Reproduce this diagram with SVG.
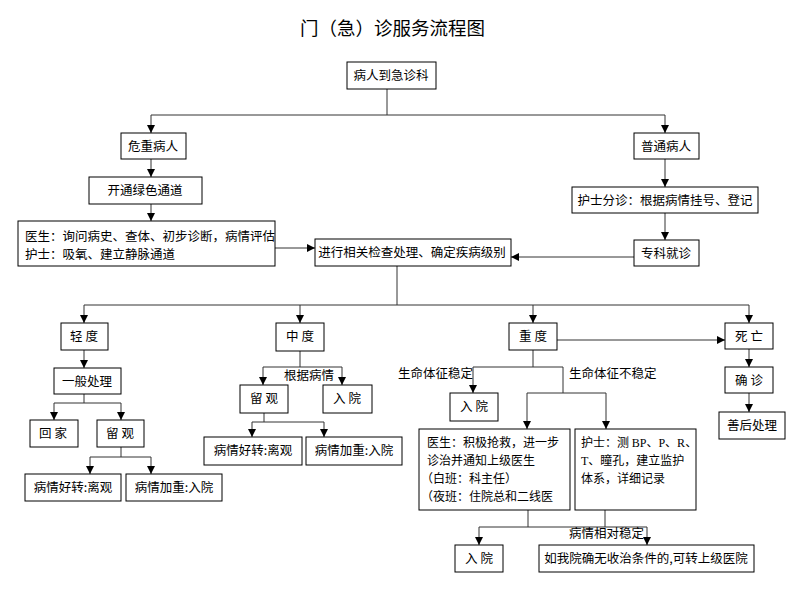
<svg xmlns="http://www.w3.org/2000/svg" width="800" height="590" viewBox="0 0 800 590">
<defs>
<marker id="arr" markerUnits="userSpaceOnUse" markerWidth="8" markerHeight="8" refX="8" refY="4" orient="auto">
<path d="M0,0 L8,4 L0,8 z" fill="#000"/>
</marker>
<style>
.b{fill:#fff;stroke:#000;stroke-width:1}
.t{font-family:"Noto Sans CJK SC","Liberation Sans",sans-serif;font-size:12.5px;fill:#000}
.m{font-size:12px}
.c{text-anchor:middle}
.l{fill:none;stroke:#333;stroke-width:1}
.a{fill:none;stroke:#333;stroke-width:1;marker-end:url(#arr)}
.s{font-family:"Liberation Serif",serif}
</style>
</defs>
<rect width="800" height="590" fill="#fff"/>
<text x="300" y="35" style="font-family:'Noto Sans CJK SC',sans-serif;font-size:18.5px">门（急）诊服务流程图</text>

<g id="connectors">
<path class="l" d="M387,89 V115 M151,115 H665"/>
<path class="a" d="M151,115 V133"/>
<path class="a" d="M665,115 V133"/>
<path class="a" d="M151,159 V177"/>
<path class="a" d="M151,204 V221"/>
<path class="a" d="M275,248 H315"/>
<path class="a" d="M665,159 V187"/>
<path class="a" d="M665,213 V240"/>
<path class="a" d="M634,257 H511"/>
<path class="l" d="M397,266 V305 M84,305 H749"/>
<path class="a" d="M84,305 V323"/>
<path class="a" d="M300,305 V323"/>
<path class="a" d="M533,305 V323"/>
<path class="a" d="M749,305 V323"/>
<path class="a" d="M84,350 V368"/>
<path class="l" d="M84,394 V403 M54,403 H121"/>
<path class="a" d="M54,403 V420"/>
<path class="a" d="M121,403 V420"/>
<path class="l" d="M121,447 V457 M90,457 H151"/>
<path class="a" d="M90,457 V474"/>
<path class="a" d="M151,457 V474"/>
<path class="l" d="M300,351 V367 M263,367 H342"/>
<path class="a" d="M263,367 V385"/>
<path class="a" d="M342,367 V385"/>
<path class="l" d="M264,413 V422 M252,422 H324"/>
<path class="a" d="M252,422 V437"/>
<path class="a" d="M324,422 V437"/>
<path class="l" d="M533,350 V367 M473,367 H563 V393 M527,393 H606"/>
<path class="a" d="M473,367 V393"/>
<path class="a" d="M527,393 V429"/>
<path class="a" d="M606,393 V429"/>
<path class="a" d="M557,340 H725"/>
<path class="l" d="M528,510 V527 M605,510 V527 M479,527 H647"/>
<path class="a" d="M479,527 V545"/>
<path class="a" d="M647,527 V545"/>
<path class="a" d="M749,349 V367"/>
<path class="a" d="M749,393 V412"/>
<text class="t c" x="309" y="380">根据病情</text>
<text class="t" x="398" y="378">生命体征稳定</text>
<text class="t" x="569" y="378">生命体征不稳定</text>
<text class="t" x="569" y="538">病情相对稳定</text>
</g>

<g id="n1"><rect class="b" x="347" y="62" width="89" height="27"/><text class="t c" x="391" y="80">病人到急诊科</text></g>
<g id="n2"><rect class="b" x="121" y="133" width="65" height="26"/><text class="t c" x="153" y="151">危重病人</text></g>
<g id="n3"><rect class="b" x="89" y="177" width="113" height="27"/><text class="t c" x="145" y="195">开通绿色通道</text></g>
<g id="n4"><rect class="b" x="18" y="221" width="257" height="45"/><text class="t" x="25" y="241">医生：询问病史、查体、初步诊断，病情评估</text><text class="t" x="25" y="259">护士：吸氧、建立静脉通道</text></g>
<g id="n5"><rect class="b" x="315" y="239" width="196" height="27"/><text class="t c" x="412" y="257">进行相关检查处理、确定疾病级别</text></g>
<g id="n6"><rect class="b" x="634" y="133" width="65" height="26"/><text class="t c" x="666" y="151">普通病人</text></g>
<g id="n7"><rect class="b" x="572" y="187" width="186" height="26"/><text class="t c" x="665" y="205">护士分诊：根据病情挂号、登记</text></g>
<g id="n8"><rect class="b" x="634" y="240" width="65" height="26"/><text class="t c" x="666" y="258">专科就诊</text></g>

<g id="n9"><rect class="b" x="61" y="323" width="47" height="27"/><text class="t c" x="84" y="341">轻 度</text></g>
<g id="n10"><rect class="b" x="54" y="368" width="67" height="26"/><text class="t c" x="87" y="386">一般处理</text></g>
<g id="n11"><rect class="b" x="30" y="420" width="48" height="27"/><text class="t c" x="53" y="438">回 家</text></g>
<g id="n12"><rect class="b" x="97" y="420" width="47" height="27"/><text class="t c" x="120" y="438">留 观</text></g>
<g id="n13"><rect class="b" x="25" y="474" width="96" height="27"/><text class="t c" x="73" y="492">病情好转:离观</text></g>
<g id="n14"><rect class="b" x="126" y="474" width="96" height="27"/><text class="t c" x="174" y="492">病情加重:入院</text></g>

<g id="n15"><rect class="b" x="276" y="323" width="48" height="28"/><text class="t c" x="300" y="341">中 度</text></g>
<g id="n16"><rect class="b" x="240" y="385" width="48" height="28"/><text class="t c" x="264" y="403">留 观</text></g>
<g id="n17"><rect class="b" x="323" y="385" width="49" height="28"/><text class="t c" x="347" y="403">入 院</text></g>
<g id="n18"><rect class="b" x="204" y="437" width="98" height="28"/><text class="t c" x="253" y="455">病情好转:离观</text></g>
<g id="n19"><rect class="b" x="306" y="437" width="96" height="28"/><text class="t c" x="354" y="455">病情加重:入院</text></g>

<g id="n20"><rect class="b" x="509" y="323" width="48" height="27"/><text class="t c" x="533" y="341">重 度</text></g>
<g id="n21"><rect class="b" x="450" y="393" width="48" height="28"/><text class="t c" x="474" y="411">入 院</text></g>
<g id="n22"><rect class="b" x="419" y="429" width="151" height="81"/>
<text class="t m" x="427" y="447">医生：积极抢救，进一步</text>
<text class="t m" x="427" y="465">诊治并通知上级医生</text>
<text class="t m" x="421" y="483">（白班：科主任）</text>
<text class="t m" x="421" y="501">（夜班：住院总和二线医</text></g>
<g id="n23"><rect class="b" x="575" y="429" width="121" height="81"/>
<text class="t m" x="581" y="447">护士：测 <tspan class="s">BP</tspan>、<tspan class="s">P</tspan>、<tspan class="s">R</tspan>、</text>
<text class="t m" x="581" y="465"><tspan class="s">T</tspan>、瞳孔，建立监护</text>
<text class="t m" x="581" y="483">体系，详细记录</text></g>
<g id="n24"><rect class="b" x="455" y="545" width="48" height="27"/><text class="t c" x="479" y="563">入 院</text></g>
<g id="n25"><rect class="b" x="539" y="545" width="215" height="27"/><text class="t c" x="646" y="563">如我院确无收治条件的,可转上级医院</text></g>

<g id="n26"><rect class="b" x="725" y="323" width="48" height="26"/><text class="t c" x="749" y="341">死 亡</text></g>
<g id="n27"><rect class="b" x="725" y="367" width="48" height="26"/><text class="t c" x="749" y="385">确 诊</text></g>
<g id="n28"><rect class="b" x="719" y="412" width="66" height="27"/><text class="t c" x="752" y="430">善后处理</text></g>
</svg>
